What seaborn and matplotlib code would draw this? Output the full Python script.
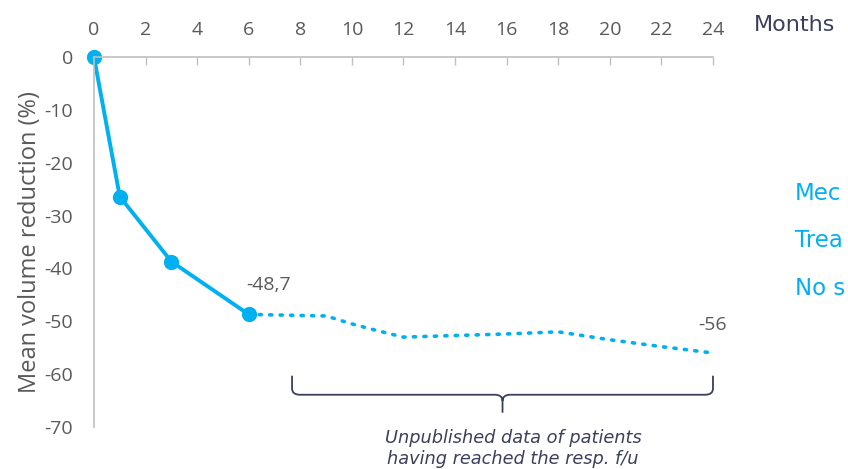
import numpy as np
import pandas as pd
import matplotlib
matplotlib.use('Agg')
from matplotlib import pyplot as plt
from matplotlib.path import Path
from matplotlib.patches import PathPatch
import seaborn as sns

# published follow-up
months = [0, 1, 3, 6]
reduction = [0, -26.4, -38.7, -48.7]
# unpublished data (dotted)
months_unpub = [6, 9, 10, 11, 12, 14, 16, 18, 20, 22, 24]
reduction_unpub = [-48.7, -49, -50.5, -51.8, -53, -52.7, -52.4, -52, -53.5, -54.8, -56]

xticks = list(range(0, 25, 2))
yticks = list(range(0, -80, -10))
# side texts are cut by the slide edge in the original
side_labels = ['Mec', 'Trea', 'No s']

cyan = '#00b0f0'
grey = '#595959'
navy = '#3b3f5c'

sns.set_style('white')
plt.rcParams['font.family'] = ['Open Sans', 'DejaVu Sans']
plt.rcParams['axes.unicode_minus'] = False

df = pd.DataFrame({'month': months, 'red': reduction})
df2 = pd.DataFrame({'month': months_unpub, 'red': reduction_unpub})

fig = plt.figure(figsize=(8.48, 4.69), dpi=100)
ax = fig.add_axes([0.1108, 0.0896, 0.73, 0.7889])

sns.lineplot(data=df2, x='month', y='red', ax=ax, color=cyan, lw=2.6,
             linestyle=(0, (0.6, 2.3)), dash_capstyle='round', clip_on=False)
sns.lineplot(data=df, x='month', y='red', ax=ax, color=cyan, lw=2.8,
             marker='o', markersize=11, markeredgewidth=0, clip_on=False)

ax.set_xlim(0, 24)
ax.set_ylim(-70, 0)
ax.xaxis.tick_top()
ax.set_xticks(xticks)
ax.set_yticks(yticks)
ax.tick_params(axis='x', direction='in', length=6, width=1, color='#bfbfbf',
               labelsize=14, labelcolor=grey, pad=13)
ax.tick_params(axis='y', length=0, labelsize=14, labelcolor=grey, pad=15)
for s in ['right', 'bottom']:
    ax.spines[s].set_visible(False)
for s in ['left', 'top']:
    ax.spines[s].set_color('#bfbfbf')
    ax.spines[s].set_linewidth(1.2)
ax.set_xlabel('')
ax.set_ylabel('Mean volume reduction (%)', fontsize=17, color=grey, labelpad=2)

fig.text(754 / 848, 1 - 25 / 469, 'Months', fontsize=16, color=navy,
         va='center', ha='left', family=['DejaVu Sans'])

ax.annotate('-48,7', (months[-1], reduction[-1]), xytext=(14, 15), textcoords='offset points',
            fontsize=14, color=grey, ha='center', va='bottom')
ax.annotate('-56', (months_unpub[-1], reduction_unpub[-1]), xytext=(0, 14), textcoords='offset points',
            fontsize=14, color=grey, ha='center', va='bottom')

# brace under the unpublished part
x0, x1 = 7.68, 24
xm = (x0 + x1) / 2
ytop, ybar, ytip = -60.3, -63.9, -67.3
r = 0.3
verts = [(x0, ytop), (x0, ybar + 1.2), (x0, ybar), (x0 + r, ybar),
         (xm - r, ybar), (xm, ybar), (xm, ybar - 1.2), (xm, ytip),
         (xm, ybar - 1.2), (xm, ybar), (xm + r, ybar),
         (x1 - r, ybar), (x1, ybar), (x1, ybar + 1.2), (x1, ytop)]
codes = [Path.MOVETO, Path.LINETO, Path.CURVE3, Path.CURVE3,
         Path.LINETO, Path.CURVE3, Path.CURVE3, Path.LINETO,
         Path.MOVETO, Path.CURVE3, Path.CURVE3,
         Path.LINETO, Path.CURVE3, Path.CURVE3, Path.LINETO]
ax.add_patch(PathPatch(Path(verts, codes), fill=False, edgecolor=navy, lw=1.3, clip_on=False))

fig.text(513 / 848, 1 - 438 / 469, 'Unpublished data of patients', fontsize=12.8, style='italic',
         color=navy, ha='center', va='center', family=['DejaVu Sans'])
fig.text(513 / 848, 1 - 459 / 469, 'having reached the resp. f/u', fontsize=12.8, style='italic',
         color=navy, ha='center', va='center', family=['DejaVu Sans'])

for i, lab in enumerate(side_labels):
    fig.text(795 / 848, 1 - (193 + i * 47.5) / 469, lab, fontsize=16.5, color=cyan,
             ha='left', va='center', family=['DejaVu Sans'])

fig.savefig('out.png', dpi=100)
